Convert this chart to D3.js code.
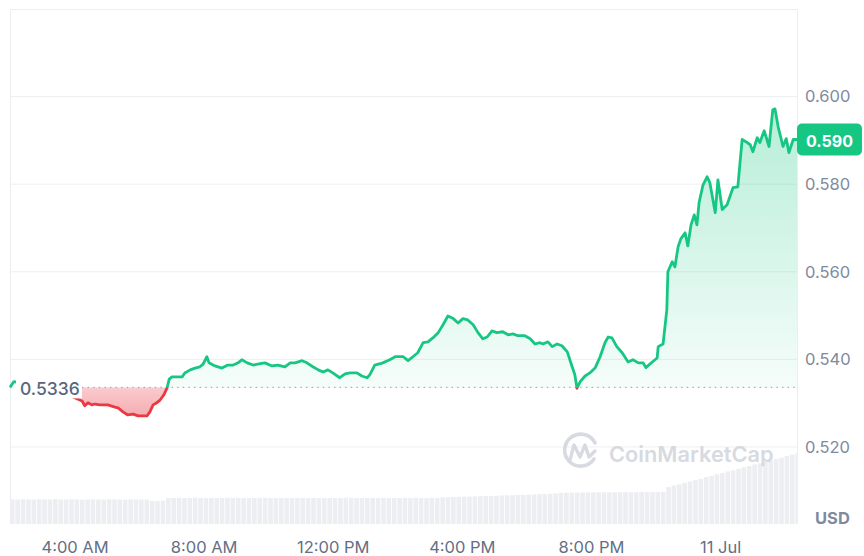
<!DOCTYPE html>
<html>
<head>
<meta charset="utf-8">
<script src="https://cdn.jsdelivr.net/npm/d3@7"></script>
<style>
  html, body { margin: 0; padding: 0; background: #fff; }
  svg { display: block; font-family: Inter, "Noto Sans", sans-serif; }
</style>
</head>
<body>
<div id="chart"></div>
<script>
// Price series (time of point, price in USD)
const priceTimes = [
  "07-10 02:00","07-10 02:07","07-10 02:37","07-10 03:14","07-10 03:42","07-10 04:14","07-10 04:19","07-10 04:25",
  "07-10 04:32","07-10 04:38","07-10 04:47","07-10 05:02","07-10 05:15","07-10 05:21","07-10 05:30","07-10 05:39",
  "07-10 05:49","07-10 05:58","07-10 06:07","07-10 06:15","07-10 06:20","07-10 06:26","07-10 06:33","07-10 06:39",
  "07-10 06:43","07-10 06:46","07-10 06:52","07-10 06:56","07-10 07:01","07-10 07:12","07-10 07:20","07-10 07:25",
  "07-10 07:35","07-10 07:44","07-10 07:53","07-10 07:59","07-10 08:06","07-10 08:10","07-10 08:21","07-10 08:34",
  "07-10 08:45","07-10 08:55","07-10 09:04","07-10 09:11","07-10 09:21","07-10 09:32","07-10 09:45","07-10 09:54",
  "07-10 10:07","07-10 10:18","07-10 10:31","07-10 10:41","07-10 10:50","07-10 11:03","07-10 11:12","07-10 11:23",
  "07-10 11:33","07-10 11:42","07-10 11:51","07-10 12:00","07-10 12:13","07-10 12:23","07-10 12:32","07-10 12:45",
  "07-10 12:54","07-10 13:04","07-10 13:09","07-10 13:18","07-10 13:28","07-10 13:33","07-10 13:46","07-10 13:56",
  "07-10 14:11","07-10 14:20","07-10 14:29","07-10 14:38","07-10 14:48","07-10 14:57","07-10 15:06","07-10 15:16",
  "07-10 15:25","07-10 15:34","07-10 15:44","07-10 15:53","07-10 16:02","07-10 16:11","07-10 16:21","07-10 16:30",
  "07-10 16:39","07-10 16:47","07-10 16:56","07-10 17:05","07-10 17:16","07-10 17:26","07-10 17:35","07-10 17:44",
  "07-10 17:57","07-10 18:07","07-10 18:16","07-10 18:25","07-10 18:31","07-10 18:40","07-10 18:48","07-10 18:57",
  "07-10 19:06","07-10 19:16","07-10 19:25","07-10 19:30","07-10 19:34","07-10 19:40","07-10 19:49","07-10 19:58",
  "07-10 20:08","07-10 20:17","07-10 20:26","07-10 20:32","07-10 20:39","07-10 20:48","07-10 20:58","07-10 21:09",
  "07-10 21:18","07-10 21:28","07-10 21:37","07-10 21:42","07-10 21:54","07-10 22:03","07-10 22:05","07-10 22:14",
  "07-10 22:21","07-10 22:23","07-10 22:31","07-10 22:36","07-10 22:42","07-10 22:47","07-10 22:55","07-10 23:00",
  "07-10 23:06","07-10 23:12","07-10 23:17","07-10 23:21","07-10 23:28","07-10 23:36","07-10 23:41","07-10 23:51",
  "07-10 23:56","07-11 00:04","07-11 00:13","07-11 00:24","07-11 00:33","07-11 00:41","07-11 00:48","07-11 00:56",
  "07-11 01:01","07-11 01:09","07-11 01:14","07-11 01:22","07-11 01:31","07-11 01:38","07-11 01:42","07-11 01:48",
  "07-11 01:57","07-11 02:03","07-11 02:08","07-11 02:16","07-11 02:23"
];
const prices = [
  0.5336,0.5349,0.5342,0.5330,0.5322,0.5305,0.5294,0.5301,
  0.5296,0.5298,0.5296,0.5296,0.5291,0.5289,0.5280,0.5273,
  0.5275,0.5271,0.5271,0.5271,0.5280,0.5296,0.5301,0.5307,
  0.5314,0.5319,0.5335,0.5355,0.5360,0.5360,0.5360,0.5369,
  0.5376,0.5380,0.5383,0.5389,0.5406,0.5392,0.5385,0.5380,
  0.5387,0.5387,0.5392,0.5399,0.5392,0.5387,0.5390,0.5392,
  0.5385,0.5387,0.5383,0.5392,0.5392,0.5397,0.5392,0.5383,
  0.5376,0.5371,0.5376,0.5369,0.5358,0.5367,0.5369,0.5369,
  0.5362,0.5358,0.5365,0.5387,0.5390,0.5392,0.5399,0.5406,
  0.5406,0.5397,0.5406,0.5415,0.5438,0.5440,0.5449,0.5461,
  0.5479,0.5499,0.5493,0.5483,0.5493,0.5490,0.5479,0.5461,
  0.5447,0.5451,0.5465,0.5461,0.5463,0.5456,0.5458,0.5454,
  0.5454,0.5447,0.5435,0.5438,0.5435,0.5440,0.5429,0.5435,
  0.5431,0.5417,0.5383,0.5365,0.5334,0.5349,0.5362,0.5369,
  0.5381,0.5406,0.5438,0.5451,0.5449,0.5429,0.5415,0.5394,
  0.5399,0.5392,0.5392,0.5381,0.5394,0.5403,0.5429,0.5435,
  0.5513,0.5600,0.5623,0.5611,0.5657,0.5675,0.5689,0.5659,
  0.5707,0.5730,0.5707,0.5758,0.5797,0.5817,0.5803,0.5735,
  0.5810,0.5742,0.5753,0.5792,0.5794,0.5902,0.5897,0.5890,
  0.5874,0.5906,0.5895,0.5922,0.5886,0.5970,0.5972,0.5931,
  0.5886,0.5904,0.5872,0.5902,0.5902
];
const openPrice = 0.5336;
const yTicks = [0.52, 0.54, 0.56, 0.58, 0.60];

// Volume bars, one every 10 minutes from volumeStart (millions USD)
const volumeStart = "07-10 02:00";
const volumeStepMinutes = 10;
const volumes = [
  246,244,248,245,243,247,246,245,249,244,246,248,245,243,246,247,245,244,248,246,245,243,247,246,244,245,
  232,230,233,
  258,260,262,259,261,263,260,258,262,261,259,263,260,262,261,259,260,262,263,261,258,260,262,259,261,263,
  260,261,259,262,260,258,261,263,262,260,259,261,262,260,263,261,259,260,262,261,263,260,259,262,261,
  266,268,270,271,273,275,276,278,280,281,283,285,287,288,290,292,294,296,298,300,303,306,
  312,313,315,314,316,315,317,316,318,317,316,318,319,317,318,320,319,318,320,321,
  370,386,397,413,425,441,452,469,481,497,509,526,537,552,567,579,596,607,623,635,651,664,679,693,708
];

const W = 864, H = 556;
const plot = { left: 10, right: 797, top: 9, bottom: 524 };
const green = '#16c784', red = '#ea3943';

const parse = d3.timeParse('%m-%d %H:%M');
const data = priceTimes.map((t, i) => ({ t: parse(t), p: prices[i] }));
const vStart = parse(volumeStart);
const volData = volumes.map((v, i) => ({ t: d3.timeMinute.offset(vStart, i * volumeStepMinutes), v }));

const x = d3.scaleTime().domain(d3.extent(data, d => d.t)).range([plot.left, plot.right]);
const y = d3.scaleLinear().domain([0.5024, 0.62]).range([plot.bottom, plot.top]);
const yVol = d3.scaleLinear().domain([0, 720]).range([plot.bottom, 452]);
const yBase = y(openPrice);

const svg = d3.select('#chart').append('svg')
  .attr('width', W)
  .attr('height', H);

const defs = svg.append('defs');
defs.append('clipPath').attr('id', 'plot-clip')
  .append('rect').attr('x', plot.left).attr('y', plot.top)
  .attr('width', plot.right - plot.left).attr('height', plot.bottom - plot.top);
defs.append('clipPath').attr('id', 'above')
  .append('rect').attr('x', 0).attr('y', 0).attr('width', W).attr('height', yBase);
defs.append('clipPath').attr('id', 'below')
  .append('rect').attr('x', 0).attr('y', yBase).attr('width', W).attr('height', H - yBase);

const gGreen = defs.append('linearGradient').attr('id', 'grad-green')
  .attr('gradientUnits', 'userSpaceOnUse').attr('x1', 0).attr('x2', 0).attr('y1', 100).attr('y2', yBase);
gGreen.append('stop').attr('offset', 0).attr('stop-color', green).attr('stop-opacity', 0.32);
gGreen.append('stop').attr('offset', 1).attr('stop-color', green).attr('stop-opacity', 0.04);
const gRed = defs.append('linearGradient').attr('id', 'grad-red')
  .attr('gradientUnits', 'userSpaceOnUse').attr('x1', 0).attr('x2', 0).attr('y1', yBase).attr('y2', y(0.527));
gRed.append('stop').attr('offset', 0).attr('stop-color', red).attr('stop-opacity', 0.26);
gRed.append('stop').attr('offset', 1).attr('stop-color', red).attr('stop-opacity', 0.42);

// Grid + frame
svg.append('g').selectAll('line')
  .data(yTicks)
  .enter().append('line')
  .attr('x1', plot.left).attr('x2', plot.right)
  .attr('y1', d => y(d)).attr('y2', d => y(d))
  .attr('stroke', '#eceff2').attr('stroke-width', 1);
svg.append('path')
  .attr('d', `M${plot.left + 0.5},${plot.bottom}V${plot.top + 0.5}H${plot.right + 0.5}V${plot.bottom}`)
  .attr('fill', 'none').attr('stroke', '#eceef1').attr('stroke-width', 1);

// Volume bars
const barW = x(d3.timeMinute.offset(vStart, volumeStepMinutes)) - x(vStart);
svg.append('g').attr('clip-path', 'url(#plot-clip)')
  .selectAll('rect')
  .data(volData)
  .enter().append('rect')
  .attr('x', d => x(d.t))
  .attr('y', d => yVol(d.v))
  .attr('width', barW - 0.8)
  .attr('height', d => plot.bottom - yVol(d.v))
  .attr('fill', '#eceef2');

// Watermark
const wm = svg.append('g').attr('opacity', 0.9);
wm.append('path')
  .attr('d', 'M594,459 A16,16 0 1 1 595,443')
  .attr('fill', 'none').attr('stroke', '#d3d7de').attr('stroke-width', 3.6).attr('stroke-linecap', 'round');
wm.append('path')
  .attr('d', 'M570,460 L574,445 L580,457 L585,445 L589,457 L595,451')
  .attr('fill', 'none').attr('stroke', '#d3d7de').attr('stroke-width', 3.3)
  .attr('stroke-linejoin', 'round').attr('stroke-linecap', 'round');
wm.append('text')
  .attr('x', 609).attr('y', 462)
  .attr('font-size', 21.8).attr('font-weight', 600)
  .attr('fill', '#d3d7de')
  .text('CoinMarketCap');

// Areas
const area = d3.area().x(d => x(d.t)).y0(yBase).y1(d => y(d.p));
svg.append('path').datum(data).attr('clip-path', 'url(#above)')
  .attr('d', area).attr('fill', 'url(#grad-green)');
svg.append('path').datum(data).attr('clip-path', 'url(#below)')
  .attr('d', area).attr('fill', 'url(#grad-red)');

// Open price dotted line
svg.append('line')
  .attr('x1', 82).attr('x2', plot.right)
  .attr('y1', yBase).attr('y2', yBase)
  .attr('stroke', '#a3abbd').attr('stroke-width', 1.4)
  .attr('stroke-dasharray', '1.4 4.2');

// Price line
const line = d3.line().x(d => x(d.t)).y(d => y(d.p));
svg.append('path').datum(data).attr('clip-path', 'url(#above)')
  .attr('d', line).attr('fill', 'none').attr('stroke', green)
  .attr('stroke-width', 2.8).attr('stroke-linejoin', 'round');
svg.append('path').datum(data).attr('clip-path', 'url(#below)')
  .attr('d', line).attr('fill', 'none').attr('stroke', red)
  .attr('stroke-width', 2.8).attr('stroke-linejoin', 'round');

// Open price label
svg.append('rect')
  .attr('x', 16).attr('y', yBase - 11).attr('width', 66).attr('height', 22)
  .attr('fill', '#fff');
svg.append('text')
  .attr('x', 20).attr('y', yBase + 1.5)
  .attr('dominant-baseline', 'central')
  .attr('font-size', 17.5).attr('font-weight', 500)
  .attr('fill', '#58667e')
  .text(d3.format('.4f')(openPrice));

// Y axis (right)
const yAxis = svg.append('g')
  .attr('transform', `translate(${plot.right},0)`)
  .call(d3.axisRight(y).tickValues(yTicks).tickFormat(d3.format('.3f')).tickSize(0).tickPadding(8));
yAxis.select('.domain').remove();
yAxis.selectAll('text')
  .attr('font-family', 'Inter, sans-serif')
  .attr('font-size', 16.5).attr('fill', '#808a9d');

svg.append('text')
  .attr('x', 815).attr('y', 518)
  .attr('dominant-baseline', 'central')
  .attr('font-size', 16.5).attr('font-weight', 700)
  .attr('fill', '#808a9d')
  .text('USD');

// Last price tag
const last = data[data.length - 1];
svg.append('rect')
  .attr('x', plot.right).attr('y', y(last.p) - 16)
  .attr('width', 65).attr('height', 32).attr('rx', 5)
  .attr('fill', green);
svg.append('text')
  .attr('x', plot.right + 32.5).attr('y', y(last.p) + 1)
  .attr('text-anchor', 'middle').attr('dominant-baseline', 'central')
  .attr('font-size', 16).attr('font-weight', 700)
  .attr('fill', '#fff')
  .text(d3.format('.3f')(last.p));

// X axis
const fmtTick = d => (d.getHours() === 0 ? d3.timeFormat('%-d %b')(d) : d3.timeFormat('%-I:%M %p')(d));
const xAxis = svg.append('g')
  .attr('transform', 'translate(0,541)')
  .call(d3.axisBottom(x).ticks(d3.timeHour.every(4)).tickFormat(fmtTick).tickSize(0).tickPadding(0));
xAxis.select('.domain').remove();
xAxis.selectAll('text')
  .attr('font-family', 'Inter, sans-serif')
  .attr('font-size', 16.5).attr('fill', '#646f84');
</script>
</body>
</html>
